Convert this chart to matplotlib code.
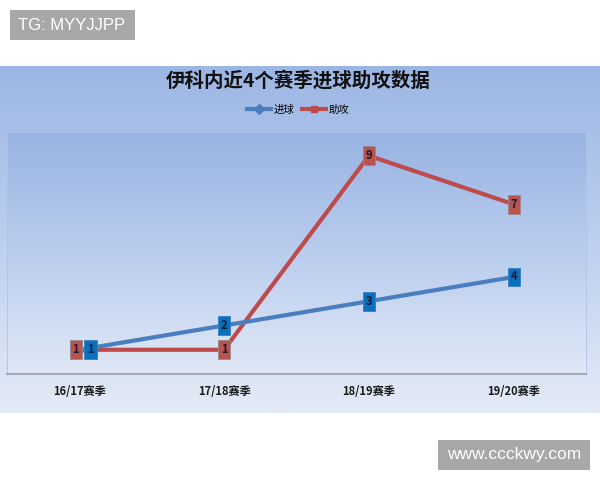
import matplotlib
matplotlib.use("Agg")
import matplotlib.pyplot as plt
import numpy as np
from matplotlib.colors import LinearSegmentedColormap
from matplotlib.patches import Rectangle

plt.rcParams['font.family'] = ['Noto Sans CJK SC', 'DejaVu Sans']

# 数据
seasons = ["16/17赛季", "17/18赛季", "18/19赛季", "19/20赛季"]
goals = [1, 2, 3, 4]
assists = [1, 1, 9, 7]
title = "伊科内近4个赛季进球助攻数据"

blue_line = "#4a7ebe"
red_line = "#be4b4b"
blue_box = "#0a6fbd"
red_box = "#ba5250"

fig = plt.figure(figsize=(6, 4.8), dpi=100)
fig.patch.set_facecolor("white")

# 外层渐变背景
bg = fig.add_axes([0, (480 - 413) / 480, 1, (413 - 66) / 480])
outer_cmap = LinearSegmentedColormap.from_list("outer", ["#9cb6e4", "#bccfee", "#e4ebf7"])
bg.imshow(np.linspace(0, 1, 256).reshape(-1, 1), cmap=outer_cmap, aspect="auto")
bg.axis("off")

# 主图
ax = fig.add_axes([7 / 600, 106 / 480, 579 / 600, 242.5 / 480])
ax.set_facecolor("none")
inner_cmap = LinearSegmentedColormap.from_list("inner", ["#e0e8f6", "#bacdee", "#98b3e2"])
ax.imshow(np.linspace(0, 1, 256).reshape(-1, 1), cmap=inner_cmap, aspect="auto",
          extent=[-0.5, 3.5, 0, 10], origin="lower", zorder=0)

x = np.arange(len(seasons))
ax.plot(x, goals, color=blue_line, lw=3, marker="D", ms=5, label="进球", zorder=3)
ax.plot(x, assists, color=red_line, lw=3, marker="s", ms=5, label="助攻", zorder=2)

# 数据标签
for i, v in enumerate(assists):
    dx = -2.5 if i == 0 else 0
    ax.annotate(str(v), (x[i], v), xytext=(dx, 0), textcoords="offset points",
                ha="center", va="center", fontsize=8, fontweight="bold", color="#1a1a2a",
                bbox=dict(boxstyle="square,pad=0.25", fc=red_box, ec="#9a8a8a", lw=0.6),
                zorder=5)
for i, v in enumerate(goals):
    dx = 8 if i == 0 else 0
    ax.annotate(str(v), (x[i], v), xytext=(dx, 0), textcoords="offset points",
                ha="center", va="center", fontsize=8, fontweight="bold", color="#0e1a3a",
                bbox=dict(boxstyle="square,pad=0.25", fc=blue_box, ec="#3a7fc0", lw=0.6),
                zorder=6)

ax.set_xlim(-0.5, 3.5)
ax.set_ylim(0, 10)
ax.set_xticks(x)
ax.set_xticklabels(seasons, fontsize=8, fontweight="bold", color="#1a1a1a")
ax.tick_params(axis="x", length=0, pad=8)
ax.set_yticks([])
for s in ["top", "left", "right"]:
    ax.spines[s].set_color("#aec3e8")
    ax.spines[s].set_linewidth(0.6)
ax.spines["bottom"].set_color("#a3abb8")
ax.spines["bottom"].set_linewidth(1.5)

fig.text(298 / 600, 1 - 81 / 480, title, ha="center", va="center",
         fontsize=14, fontweight="bold", color="#111111")
fig.legend(loc="center", bbox_to_anchor=(298 / 600, 1 - 110 / 480), ncol=2,
           frameon=False, fontsize=7.5, handlelength=2.3, handletextpad=0.2,
           columnspacing=0.8)

# 水印
fig.patches.append(Rectangle((10 / 600, 1 - 40 / 480), 125 / 600, 30 / 480,
                             transform=fig.transFigure, fc="#a8a8a8", ec="none"))
fig.text(72 / 600, 1 - 25 / 480, "TG: MYYJJPP", ha="center", va="center",
         fontsize=12, color="white", family="Liberation Sans")
fig.patches.append(Rectangle((438 / 600, 1 - 470 / 480), 152 / 600, 30 / 480,
                             transform=fig.transFigure, fc="#a8a8a8", ec="none"))
fig.text(514 / 600, 1 - 455 / 480, "www.ccckwy.com", ha="center", va="center",
         fontsize=12.5, color="white", family="Liberation Sans")

fig.savefig("out.png", dpi=100)
